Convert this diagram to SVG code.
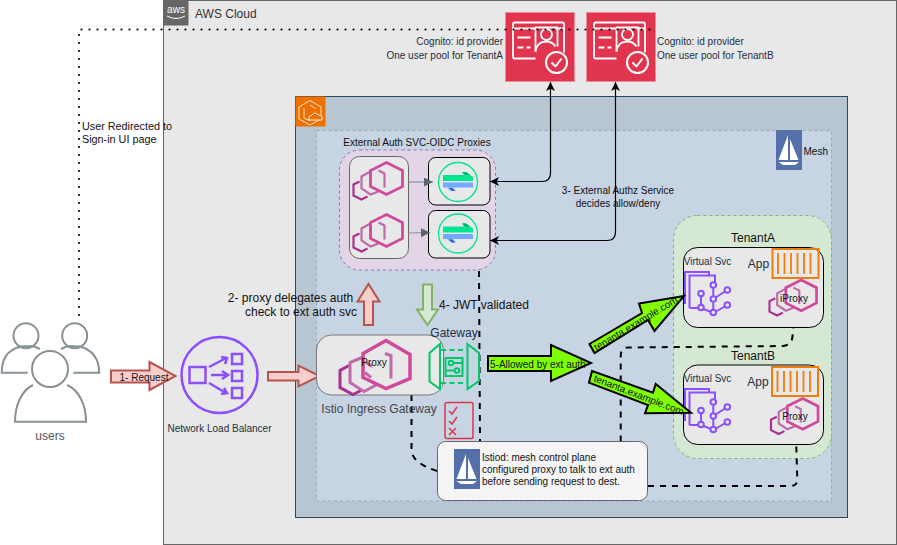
<svg xmlns="http://www.w3.org/2000/svg" width="897" height="545" viewBox="0 0 897 545" font-family="'Liberation Sans', Arial, sans-serif">
<style>
text{font-family:"Liberation Sans",Arial,sans-serif;fill:#111}
.s10{font-size:10px}.s11{font-size:10.800px}.s12{font-size:12px}
.g{fill:#232f3e}
.mid{text-anchor:middle}
.dash{fill:none;stroke:#000;stroke-width:2;stroke-dasharray:6 6}
.conn{fill:none;stroke:#000;stroke-width:1.200}
.pk{fill:#f8cecc;stroke:#b85450;stroke-width:2}
.lime{fill:#80ff00;stroke:#000;stroke-width:2}
.ic{fill:none;stroke-linejoin:miter}
</style>
<defs>
<marker id="ah" viewBox="0 0 10 10" refX="10" refY="5" markerWidth="9" markerHeight="9" orient="auto-start-reverse" markerUnits="userSpaceOnUse"><path d="M0 0L10 5L0 10L2.500 5Z" fill="#000"/></marker>
<marker id="gh" viewBox="0 0 10 10" refX="10" refY="5" markerWidth="9" markerHeight="9" orient="auto" markerUnits="userSpaceOnUse"><path d="M0 0L10 5L0 10Z" fill="#5a6570"/></marker>
<symbol id="envoy" overflow="visible">
<g class="ic">
<path d="M6 19L0 22V33L8 37L14 34" stroke="#a8308f" stroke-width="2.200"/>
<path d="M17 9L8 14V26L17 32L25 29" stroke="#bf6aa9" stroke-width="2.200"/>
<path d="M33 0L49 8V24L33 32L17 24V8Z" stroke="#d2489b" stroke-width="2.800"/>
<path d="M25 8L31 11V25" stroke="#bf6aa9" stroke-width="2.200"/>
</g>
</symbol>
<symbol id="cog" overflow="visible">
<rect width="69" height="69" fill="#e0344f" stroke="#ef8a99" stroke-width=".7"/>
<g fill="none" stroke="#fff" stroke-width="1.800" stroke-linejoin="round">
<path d="M30 46H9Q7.500 46 7.500 44V12Q7.500 10 9.500 10H57Q58.500 10 58.500 12V40"/>
<path d="M8 16H30M50 16H58"/>
<path d="M30 39V15H52V34"/>
<circle cx="41" cy="22" r="5.500"/>
<path d="M30 39C31 31 36 29 41 29C45 29 48 31 50 34"/>
<path d="M12 25H25M12 35H18M21 35H25"/>
<circle cx="51" cy="50" r="10.500" stroke-width="2"/>
<path d="M46 50L50 54L56 46" stroke-width="2"/>
</g>
</symbol>
<symbol id="ext" overflow="visible">
<circle cx="20" cy="20" r="19.500" fill="none" stroke="#00e58f" stroke-width="1.300"/>
<path d="M5 13H26L24 10H28L35 15V19H5Z" fill="#00e58f"/>
<path d="M24 10H28L32 13H28Z" fill="#0aa86b"/>
<path d="M5 20.500H35V25.500H5Z" fill="#73a9ff"/>
<path d="M9 25.500H15L18 29H13Z" fill="#73a9ff"/>
<path d="M11 26H14L17 29H14Z" fill="#2d5fd0"/>
</symbol>
<symbol id="app" overflow="visible">
<rect x="1" y="1" width="46" height="29" fill="none" stroke="#f27c08" stroke-width="2"/>
<path d="M6.500 5V26M13 5V26M19.500 5V26M26 5V26M32.500 5V26M39 5V26" stroke="#f27c08" stroke-width="1.800" fill="none"/>
</symbol>
<symbol id="vs" overflow="visible">
<g fill="none" stroke="#8c4fff" stroke-width="2">
<path d="M1 33V1H25V4"/>
<path d="M5.500 37V4.500H31V11"/>
<path d="M5.500 37H17M17 24V36M17 37L29.300 42L43.300 34M29.300 14V42M29.300 28L43.300 19"/>
<g fill="#e8e8e8"><circle cx="17" cy="22.500" r="2.800"/><circle cx="17" cy="36.500" r="2.800"/><circle cx="29.300" cy="14" r="2.800"/><circle cx="29.300" cy="28" r="2.800"/><circle cx="29.300" cy="41.500" r="2.800"/><circle cx="43.300" cy="19" r="2.800"/><circle cx="43.300" cy="34" r="2.800"/></g>
</g>
</symbol>
<symbol id="sail" overflow="visible">
<rect width="26" height="40" fill="#5470ab"/>
<path d="M12 5V30H2.500Z M14 9L22.500 30H14Z M2.500 32H23L19 35H7Z" fill="#fff"/>
</symbol>
</defs>

<g id="aws-cloud">
<rect x="163.500" y="0.500" width="733" height="544" fill="#e8e8e8" stroke="#666"/>
<rect x="163.500" y="0.500" width="25" height="25" fill="#666"/>
<text x="176" y="13" font-size="10" class="mid" style="fill:#fff">aws</text>
<path d="M167 16Q176 21 185 16" stroke="#fff" stroke-width="1" fill="none"/>
<text x="195" y="18" font-size="12" style="fill:#333">AWS Cloud</text>
</g>
<g id="eks">
<rect x="295.500" y="96.500" width="552" height="421" fill="#b8c6d2" stroke="#2a4a62"/>
<rect x="295.500" y="96.500" width="30" height="30" fill="#ed7100"/>
<path d="M310 100.500L321 107V119L310 125L299 119V107ZM310 105L316 109M304 108V118L310 121" fill="none" stroke="#fff" stroke-width=".8"/>
<path d="M309 120H322Q323 115 318 115Q315 111 312 115Q308 116 309 120Z" fill="#ed7100" stroke="#fff" stroke-width=".9"/>
</g>
<g id="mesh">
<rect x="316.500" y="130.500" width="515" height="370.500" fill="#c6d4e4" stroke="#94a9c4" stroke-dasharray="3 3"/>
<use href="#sail" x="776" y="130"/>
<text x="803.500" y="154.500" class="s10">Mesh</text>
</g>
<g id="tenants-bg">
<rect x="673.500" y="215.500" width="158" height="243" rx="24" fill="#d5e8d4" stroke="#82b366" stroke-dasharray="3 3"/>
</g>

<g id="oidc-proxies">
<rect x="339.500" y="150" width="156" height="120" rx="20" fill="#e1d5e7" stroke="#9673a6" stroke-dasharray="3 3"/>
<text x="417" y="145.500" class="s10 mid">External Auth SVC-OIDC Proxies</text>
<rect x="349.500" y="156.500" width="59" height="102" rx="10" fill="#e8e8e8" stroke="#666"/>
<use href="#envoy" x="353.500" y="162.500"/>
<use href="#envoy" x="353.500" y="214.500"/>
<rect x="428.500" y="157.500" width="61.500" height="47.500" rx="7" fill="#e8e8e8" stroke="#000"/>
<rect x="428.500" y="210.500" width="61.500" height="47.500" rx="7" fill="#e8e8e8" stroke="#000"/>
<use href="#ext" x="438" y="162"/>
<use href="#ext" x="438" y="213.500"/>
<path d="M408.500 182H433" stroke="#8a94a0" stroke-width="1.200" fill="none" marker-end="url(#gh)"/>
<path d="M408.500 233L430 232.500" stroke="#8a94a0" stroke-width="1.200" fill="none" marker-end="url(#gh)"/>
</g>

<g id="connectors">
<path class="dash" d="M479 271L480 441.500"/>
<path class="dash" d="M411.500 395V450Q412 463 437 471"/>
<path class="dash" d="M620.700 441.500V356Q620.700 347.500 628 347.500L783 346Q791 345 792.300 338L794 321"/>
<path class="dash" d="M648 486H790Q797.300 486 797.300 480L796 437"/>
<path class="conn" d="M550.500 82V173Q550.500 181.500 542 181.500H490" marker-start="url(#ah)" marker-end="url(#ah)"/>
<path class="conn" d="M615.500 82V232Q615.500 240.500 607 240.500H490" marker-start="url(#ah)" marker-end="url(#ah)"/>
</g>
<text x="618" y="194" class="s10 mid">3- External Authz Service</text>
<text x="618" y="206.700" class="s10 mid">decides allow/deny</text>

<g id="cognito-a"><use href="#cog" x="505.500" y="12.500"/>
<text x="503" y="45" class="s10" text-anchor="end" style="fill:#232f3e">Cognito: id provider</text>
<text x="503" y="59" class="s10" text-anchor="end" style="fill:#232f3e">One user pool for TenantA</text></g>
<g id="cognito-b"><use href="#cog" x="586.500" y="12.500"/>
<text x="657" y="45" class="s10" style="fill:#232f3e">Cognito: id provider</text>
<text x="657" y="59" class="s10" style="fill:#232f3e">One user pool for TenantB</text></g>

<g id="redirect-connector">
<path d="M79 315V29.500H650" fill="none" stroke="#000" stroke-width="2.200" stroke-linecap="round" stroke-dasharray="0 8"/>
</g>
<g id="redirect-label">
<text x="82" y="130" class="s11">User Redirected to</text>
<text x="82" y="143" class="s11">Sign-in UI page</text></g>

<g id="users">
<g fill="none" stroke="#879196" stroke-width="2">
<circle cx="26" cy="335.700" r="12.500"/><circle cx="74.700" cy="335.700" r="12.500"/>
<path d="M27.700 372.700H1.700C2 360 6 350 21 346.500L33 346M40 349L33 346"/>
<path d="M73.300 372.700H99.300C99 360 93 350 80 346.500L67.700 346M61 349L67.700 346"/>
<circle cx="50" cy="369" r="18"/>
<path d="M33 385C22 390 15 405 15 421.700H86C86 405 79 390 67 385"/>
</g>
<text x="50" y="440" class="s12 mid" style="fill:#555">users</text></g>

<g id="nlb">
<circle cx="219.500" cy="375" r="38" fill="none" stroke="#8c4fff" stroke-width="2.500"/>
<g fill="none" stroke="#8c4fff" stroke-width="2.500">
<rect x="189.500" y="367" width="16" height="16"/>
<rect x="232" y="354" width="10" height="10"/><rect x="232" y="371" width="10" height="10"/><rect x="232" y="388" width="10" height="10"/>
<path d="M209 367L226 358M221 357L227 358L225 364M211 375H227M222 371L228 375L222 379M209 383L226 393M221 394L227 393L224 388"/>
</g>
<text x="219.500" y="432" class="s10 mid" style="fill:#232f3e">Network Load Balancer</text></g>

<g id="flow-arrows">
<path class="pk" d="M111 370.500H149.500V362L175.500 376L149.500 390V382.500H111Z"/>
<text x="144" y="381" class="s10 mid">1- Request</text>
<path class="pk" d="M268 372H298.500V365.500L319.500 376L298.500 386.500V380.500H268Z"/>
<path class="pk" d="M364 325V301.500H357.500L368.500 284L379.500 301.500H373V325Z"/>
<path d="M423 284.500H432V309.500H438L427.500 325L417 309.500H423Z" fill="#d5e8d4" stroke="#82b366" stroke-width="2"/>
<text x="290.500" y="302" class="s12 mid">2- proxy delegates auth</text>
<text x="301" y="316" class="s12 mid">check to ext auth svc</text>
<text x="439" y="308.700" class="s12">4- JWT validated</text>
</g>

<g id="ingress-gateway">
<rect x="316.500" y="335" width="127" height="60" rx="15" fill="#e8e8e8" stroke="#777"/>
<g class="ic" transform="translate(339 340.500)">
<path d="M10 25L1 30V47L14 54L22 50" stroke="#a8308f" stroke-width="3"/>
<path d="M23 17L11 22V42L25 51L38 44" stroke="#bf6aa9" stroke-width="3"/>
<path d="M47 0L71 14V38L47 48L24 37V13Z" stroke="#d2489b" stroke-width="3.500"/>
<path d="M27 22L33 26M26 32L32 37M46 13L52 15V38" stroke="#bf6aa9" stroke-width="3"/>
</g>
<text x="374" y="366" class="s10 mid">Proxy</text>
<text x="379" y="413" class="s12 mid" style="fill:#444">Istio Ingress Gateway</text>
<text x="454" y="336.700" class="s12 mid" style="fill:#232f3e">Gateway</text>
<g fill="none" stroke="#00c768" stroke-width="2">
<path d="M440 344L429.500 353V381.500L440 389ZM467.500 344L479 353V381L467.500 389Z"/>
<path d="M441 350H467M441 383H467" stroke-dasharray="5 3.500"/>
<rect x="445.500" y="358" width="17" height="18"/>
<circle cx="451" cy="363" r="2.300"/><circle cx="457" cy="370.500" r="2.300"/>
<path d="M453 363H462M446 370.500H455"/>
</g>
</g>

<g id="checklist">
<rect x="445" y="402.500" width="28" height="36" rx="2" fill="none" stroke="#e0344f" stroke-width="1.500"/>
<path d="M449 411L452 414L457 407M449 421L452 424L457 417M449 428L456 435M456 428L449 435" fill="none" stroke="#e0344f" stroke-width="1.500"/>
</g>

<g id="istiod">
<rect x="437.500" y="441.500" width="210" height="59" rx="8" fill="#f5f5f5" stroke="#666"/>
<use href="#sail" x="454" y="449"/>
<text x="482" y="461" class="s10">Istiod: mesh control plane</text>
<text x="482" y="473" class="s10">configured proxy to talk to ext auth</text>
<text x="482" y="485" class="s10">before sending request to dest.</text>
</g>

<g id="allowed-arrow">
<path class="lime" d="M488 356H551V345L591 363L551 381V371H488Z"/>
<text x="490" y="368" class="s10">5-Allowed by ext auth</text>
</g>

<g id="tenant-a">
<rect x="683.500" y="247.500" width="140" height="80" rx="14" fill="#e8e8e8" stroke="#000"/>
<text x="753" y="242" class="s12 mid">TenantA</text>
<text x="707.500" y="265" class="s10 mid" style="fill:#232f3e">Virtual Svc</text>
<text x="758.500" y="268" class="s12 mid" style="fill:#232f3e">App</text>
<use href="#app" x="771.500" y="248"/>
<use href="#vs" x="684" y="271"/>
<g transform="translate(769.500 280) scale(.96)"><use href="#envoy"/></g>
<text x="794" y="302" class="s10 mid">iProxy</text>
</g>
<g id="tenant-b">
<rect x="683.500" y="365" width="140" height="79.500" rx="14" fill="#e8e8e8" stroke="#000"/>
<text x="753" y="360" class="s12 mid">TenantB</text>
<text x="707.500" y="382" class="s10 mid" style="fill:#232f3e">Virtual Svc</text>
<text x="758" y="386" class="s12 mid" style="fill:#232f3e">App</text>
<use href="#app" x="771" y="366"/>
<use href="#vs" x="684" y="388"/>
<g transform="translate(771 398.500) scale(.96)"><use href="#envoy"/></g>
<text x="795" y="420" class="s10 mid">Proxy</text>
</g>

<g id="tenant-arrows">
<path class="lime" d="M589.500 344L642 313L639 303.500L684 296L654.500 331L648 320L594.500 353Z"/>
<text transform="translate(596.500 351) rotate(-31)" class="s10">tenanta.example.com</text>
<path class="lime" d="M592 371L653 392.700L655.700 384L691 412.700L645 413.300L648 405L589 382.700Z"/>
<text transform="translate(593 381) rotate(21)" class="s10">tenanta.example.com</text>
</g>
</svg>
